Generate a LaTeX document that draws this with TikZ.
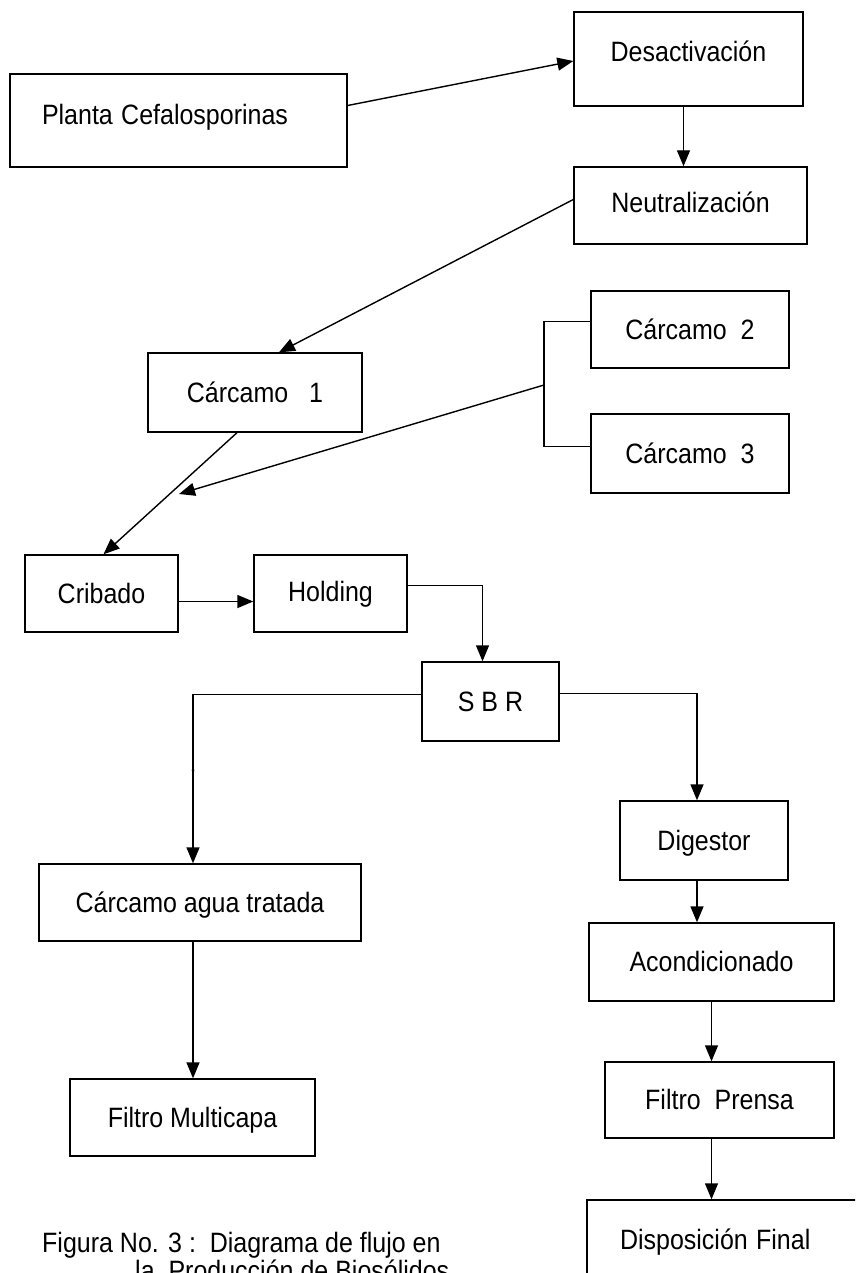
\documentclass[tikz,border=0pt]{standalone}
\usepackage{fontspec}
\usepackage{graphicx}
\setmainfont{Liberation Sans}
\usetikzlibrary{arrows.meta,calc}
\newcommand\vstr[1]{\scalebox{1}[1.12]{#1}}
\begin{document}
\begin{tikzpicture}[x=1pt,y=1pt,
  box/.style={draw, line width=1.4pt, inner sep=0pt, font=\fontsize{25}{29}\selectfont, text height=19.8pt, text depth=0pt},
  arr/.style={line width=1.4pt, -{Triangle[length=16pt,width=13pt]}},
  ln/.style={line width=1.4pt},
  captext/.style={font=\fontsize{25}{29}\selectfont, inner sep=0pt, anchor=base west}]
\useasboundingbox (0,0) rectangle (855,-1273);
\clip (0,0) rectangle (855,-1273);
\fill[white] (0,0) rectangle (855,-1273);

\node[box, minimum width=337pt, minimum height=93pt, text width=273pt, align=left, inner xsep=32pt, text depth=11pt] (planta) at (178.5,-120.5) {\vstr{Planta Cefalosporinas}};
\node[box, minimum width=229pt, minimum height=94pt, text depth=14pt] (desact) at (688.5,-59) {\vstr{Desactivación}};
\node[box, minimum width=233pt, minimum height=77pt, text depth=5pt] (neutr) at (690.5,-205.5) {\vstr{Neutralización}};
\node[box, minimum width=214pt, minimum height=79pt] (c1) at (255,-392.5) {\vstr{Cárcamo\ \ \ 1}};
\node[box, minimum width=198pt, minimum height=77pt] (c2) at (690,-329.5) {\vstr{Cárcamo\ \ 2}};
\node[box, minimum width=198pt, minimum height=79pt] (c3) at (690,-453.5) {\vstr{Cárcamo\ \ 3}};
\node[box, minimum width=153pt, minimum height=77pt] (cribado) at (101.5,-593.5) {\vstr{Cribado}};
\node[box, minimum width=153pt, minimum height=77pt, text depth=3pt] (holding) at (330.5,-593.5) {\vstr{Holding}};
\node[box, minimum width=137pt, minimum height=79pt] (sbr) at (490.5,-701.5) {\vstr{S B R}};
\node[box, minimum width=168pt, minimum height=79pt] (digestor) at (704,-840.5) {\vstr{Digestor}};
\node[box, minimum width=322pt, minimum height=77pt] (agua) at (200,-902.5) {\vstr{Cárcamo agua tratada}};
\node[box, minimum width=245pt, minimum height=78pt] (acond) at (711.5,-962) {\vstr{Acondicionado}};
\node[box, minimum width=229pt, minimum height=76pt] (prensa) at (719.5,-1100) {\vstr{Filtro\ \ Prensa}};
\node[box, minimum width=245pt, minimum height=77pt] (multi) at (192.5,-1117.5) {\vstr{Filtro Multicapa}};
\node[box, minimum width=283pt, minimum height=90pt, text width=217pt, align=left, inner xsep=33pt, text depth=10pt] (disp) at (728.5,-1245) {\vstr{Disposición Final}};

\node[captext] (cap1) at (42,-1252) {\vstr{Figura No. 3 :\ \ Diagrama de flujo en}};
\node[captext] (cap2) at (135,-1280.5) {\vstr{la\ \ Producción de Biosólidos}};

% connectors
\draw[arr] ([yshift=15pt]planta.east) -- ([yshift=-2pt]desact.west);
\draw[arr] ([xshift=-5pt]desact.south) -- ([xshift=-5pt]desact.south |- neutr.north);
\draw[arr] ([yshift=6pt]neutr.west) -- ([xshift=24pt]c1.north);
\coordinate (jn) at (544,-385);
\coordinate (merge) at (179,-494);
\draw[ln] ([yshift=8pt]c2.west) -| (jn) |- ([yshift=7pt]c3.west);
\draw[arr] (jn) -- (merge);
\draw[arr] ([xshift=-18pt]c1.south) -- ([xshift=2pt]cribado.north);
\draw[arr] ([yshift=-8pt]cribado.east) -- ([yshift=-8pt]holding.west);
\draw[arr] ([yshift=8pt]holding.east) -| ([xshift=-8pt]sbr.north);
\draw[arr] ([yshift=7pt]sbr.west) -| ([xshift=-7pt]agua.north);
\draw[arr] ([yshift=8pt]sbr.east) -| ([xshift=-7pt]digestor.north);
\draw[arr] ([xshift=-7pt]digestor.south) -- ([xshift=-7pt]digestor.south |- acond.north);
\draw[arr] (acond.south) -- (acond.south |- prensa.north);
\draw[arr] ([xshift=-8pt]prensa.south) -- ([xshift=-8pt]prensa.south |- disp.north);
\draw[arr] ([xshift=-7pt]agua.south) -- ([xshift=-7pt]agua.south |- multi.north);
\fill (193,-770) circle (1.5pt);
\end{tikzpicture}
\end{document}
